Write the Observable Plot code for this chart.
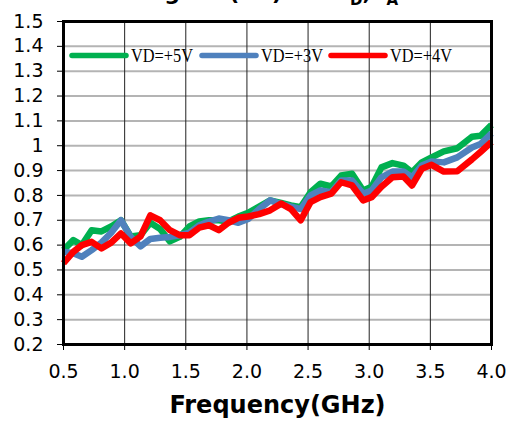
<!DOCTYPE html>
<html>
<head>
<meta charset="utf-8">
<script src="https://cdn.jsdelivr.net/npm/d3@7"></script>
<script src="https://cdn.jsdelivr.net/npm/@observablehq/plot@0.6"></script>
<style>
  html, body { margin: 0; padding: 0; background: white; }
  #wrap { position: relative; width: 507px; height: 426px; overflow: hidden; background: white; }
  #wrap svg.ov { position: absolute; left: 0; top: 0; }
</style>
</head>
<body>
<div id="wrap"></div>
<script>
// ---- data ----
const freq = [0.50,0.58,0.65,0.73,0.81,0.89,0.97,1.05,1.13,1.21,1.29,1.37,1.45,1.53,1.61,1.69,1.77,1.85,1.93,2.01,2.10,2.19,2.28,2.36,2.44,2.52,2.60,2.69,2.77,2.86,2.95,3.02,3.10,3.19,3.28,3.35,3.43,3.51,3.61,3.72,3.84,3.91,4.00];
const vd5 = [0.58,0.62,0.60,0.66,0.655,0.675,0.70,0.635,0.64,0.69,0.665,0.615,0.633,0.675,0.695,0.70,0.70,0.695,0.715,0.73,0.755,0.78,0.77,0.76,0.753,0.813,0.847,0.836,0.88,0.887,0.82,0.835,0.913,0.93,0.92,0.893,0.933,0.953,0.977,0.99,1.036,1.04,1.084];
const vd3 = [0.573,0.567,0.553,0.58,0.61,0.65,0.70,0.633,0.595,0.625,0.63,0.633,0.64,0.65,0.68,0.695,0.707,0.70,0.69,0.705,0.745,0.78,0.765,0.755,0.745,0.80,0.82,0.813,0.86,0.86,0.807,0.82,0.873,0.896,0.896,0.873,0.92,0.937,0.933,0.953,0.993,1.007,1.05];
const vd4 = [0.527,0.573,0.60,0.613,0.587,0.61,0.647,0.607,0.635,0.72,0.70,0.66,0.64,0.64,0.67,0.68,0.66,0.69,0.71,0.715,0.725,0.74,0.767,0.745,0.70,0.773,0.793,0.807,0.853,0.84,0.78,0.793,0.835,0.873,0.876,0.84,0.907,0.923,0.896,0.897,0.945,0.975,1.015];
const seriesNames = ["VD=+5V", "VD=+3V", "VD=+4V"];
const seriesColors = ["#00b050", "#4f81bd", "#ff0000"];
const xTicks = [0.5,1.0,1.5,2.0,2.5,3.0,3.5,4.0];
const yTicks = [0.2,0.3,0.4,0.5,0.6,0.7,0.8,0.9,1.0,1.1,1.2,1.3,1.4,1.5];
const xLabel = "Frequency(GHz)";

const seriesValues = [vd5, vd3, vd4];
const rows = [];
seriesNames.forEach((s, i) => freq.forEach((f, j) => rows.push({f, v: seriesValues[i][j], s})));

const chart = Plot.plot({
  width: 507, height: 426,
  marginLeft: 63, marginRight: 16, marginTop: 21, marginBottom: 82,
  style: {fontFamily: "'DejaVu Sans', sans-serif", fontSize: "19px", color: "black", background: "white"},
  x: {domain: [0.5, 4.0]},
  y: {domain: [0.2, 1.5]},
  color: {domain: seriesNames, range: seriesColors},
  marks: [
    Plot.gridY(yTicks, {stroke: "#b4b4b4", strokeWidth: 2, strokeOpacity: 1}),
    Plot.gridX(xTicks, {stroke: "#222", strokeWidth: 1, strokeOpacity: 1}),
    Plot.axisX(xTicks, {tickSize: 6, tickPadding: 14, label: null, tickFormat: d => d.toFixed(1), fontSize: 19}),
    Plot.axisY(yTicks, {tickSize: 6, tickPadding: 14, label: null, tickFormat: d => (Math.abs(d - 1) < 1e-9 ? "1" : d.toFixed(1)), fontSize: 19}),
    Plot.line(rows, {x: "f", y: "v", z: "s", stroke: "s", strokeWidth: 6.5, strokeLinejoin: "round", strokeLinecap: "butt"}),
    Plot.frame({stroke: "black", strokeWidth: 3}),
    Plot.text([xLabel], {frameAnchor: "bottom", dy: 68, fontWeight: "bold", fontSize: 24, fill: "black"})
  ]
});
const wrap = document.getElementById("wrap");
wrap.appendChild(chart);

// ---- overlays: cropped title and in-plot legend ----
const ns = "http://www.w3.org/2000/svg";
const ov = document.createElementNS(ns, "svg");
ov.setAttribute("class", "ov");
ov.setAttribute("width", 507);
ov.setAttribute("height", 426);
wrap.appendChild(ov);

// title (only its lower part shows, as in the reference)
const title = document.createElementNS(ns, "text");
title.setAttribute("x", 65);
title.setAttribute("y", 0);
title.setAttribute("font-family", "'DejaVu Sans', sans-serif");
title.setAttribute("font-weight", "bold");
title.setAttribute("font-size", 22);
title.innerHTML = 'Noise Figure (dB) vs. V<tspan font-size="15" dy="5">D</tspan><tspan dy="-5">, I</tspan><tspan font-size="15" dy="5">A</tspan>';
ov.appendChild(title);

// legend
const legX = [72, 202, 331];
seriesNames.forEach((name, i) => {
  const ln = document.createElementNS(ns, "line");
  ln.setAttribute("x1", legX[i]); ln.setAttribute("x2", legX[i] + 54);
  ln.setAttribute("y1", 55.5); ln.setAttribute("y2", 55.5);
  ln.setAttribute("stroke", seriesColors[i]);
  ln.setAttribute("stroke-width", 5.5);
  ln.setAttribute("stroke-linecap", "round");
  ov.appendChild(ln);
  const t = document.createElementNS(ns, "text");
  t.setAttribute("x", legX[i] + 59);
  t.setAttribute("y", 62);
  t.setAttribute("font-family", "'Liberation Serif', serif");
  t.setAttribute("font-size", 19);
  t.setAttribute("textLength", 62);
  t.setAttribute("lengthAdjust", "spacingAndGlyphs");
  t.textContent = name;
  ov.appendChild(t);
});
</script>
</body>
</html>
